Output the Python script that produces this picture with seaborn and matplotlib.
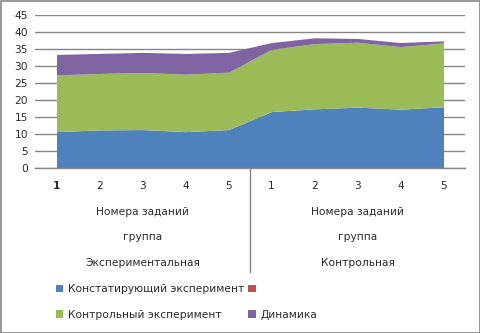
import matplotlib
matplotlib.use("Agg")
import matplotlib.pyplot as plt
import matplotlib.transforms as mtransforms
from matplotlib.patches import Patch, Rectangle
import seaborn as sns
import numpy as np

# Task numbers within each group
tasks = ["1", "2", "3", "4", "5", "1", "2", "3", "4", "5"]
groups = ["Экспериментальная", "Контрольная"]
series_names = ["Констатирующий эксперимент", "", "Контрольный эксперимент", "Динамика"]

# Stacked values per task
ascertaining = [10.7, 11.2, 11.3, 10.7, 11.3, 16.6, 17.4, 17.9, 17.3, 18.0]
empty_series = [0, 0, 0, 0, 0, 0, 0, 0, 0, 0]
control = [16.7, 16.6, 16.8, 16.9, 16.9, 18.3, 19.2, 19.1, 18.4, 18.8]
dynamics = [6.0, 5.9, 5.9, 6.1, 5.8, 2.0, 1.7, 1.1, 1.2, 0.6]

sns.set_style("white")
plt.rcParams["font.family"] = ["DejaVu Sans"]
colors = ["#4F81BD", "#C0504D", "#9BBB59", "#8064A2"]
grid_c = "#868686"
txt_c = "#2a2a2a"
fs = 7.7

W, H = 481, 333
fig = plt.figure(figsize=(W / 100, H / 100), dpi=100)
ax = fig.add_axes([35 / W, 1 - 168 / H, 430 / W, 153 / H])

x = np.arange(len(tasks))
ax.stackplot(x, ascertaining, empty_series, control, dynamics,
             colors=colors, linewidth=0)

ax.set_xlim(-0.5, len(tasks) - 0.5)
ax.set_ylim(0, 45)
ax.set_yticks(range(0, 46, 5))
ax.yaxis.grid(True, color=grid_c, linewidth=1)
ax.set_axisbelow(True)
sns.despine(ax=ax, left=True, right=True, top=True)
ax.spines["bottom"].set_color(grid_c)
ax.spines["bottom"].set_linewidth(1)
ax.tick_params(axis="y", length=0, labelsize=fs, pad=5, colors=txt_c)
ax.set_xticks([])

# multi-level category labels
trans = mtransforms.blended_transform_factory(ax.transData, fig.transFigure)
for i, t in enumerate(tasks):
    ax.text(i, 1 - 186 / H, t, transform=trans, ha="center", va="center",
            fontsize=fs, color=txt_c, fontweight="bold" if i == 0 else "normal")
for g, name in enumerate(groups):
    cx = g * 5 + 2
    ax.text(cx, 1 - 212 / H, "Номера заданий", transform=trans, ha="center",
            va="center", fontsize=fs, color=txt_c)
    ax.text(cx, 1 - 237 / H, "группа", transform=trans, ha="center",
            va="center", fontsize=fs, color=txt_c)
    ax.text(cx, 1 - 263 / H, name, transform=trans, ha="center",
            va="center", fontsize=fs, color=txt_c)
ax.plot([4.5, 4.5], [1 - 168 / H, 1 - 272 / H], transform=trans,
        color=grid_c, linewidth=1, clip_on=False)

# legend in two rows
handles = [Patch(facecolor=colors[i], edgecolor="none") for i in range(4)]
order = [0, 2, 1, 3]
fig.legend([handles[i] for i in order], [series_names[i] for i in order],
           ncol=2, loc="upper left", bbox_to_anchor=(56 / W, 1 - 284 / H),
           frameon=False, fontsize=fs, handlelength=0.7, handleheight=0.7,
           handletextpad=0.4, columnspacing=0.4, labelspacing=1.45,
           borderaxespad=0, borderpad=0, labelcolor=txt_c)

# outer chart border
fig.add_artist(Rectangle((0.5 / W, 0.5 / H), 1 - 1.5 / W, 1 - 1.5 / H,
                         transform=fig.transFigure, fill=False,
                         edgecolor=grid_c, linewidth=1.2))

fig.savefig("out.png", dpi=100)
